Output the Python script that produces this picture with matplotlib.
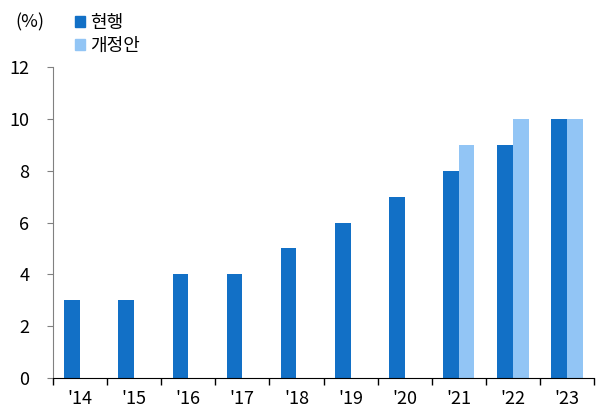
import numpy as np
import matplotlib
matplotlib.use('Agg')
from matplotlib import pyplot as plt
from matplotlib.patches import Patch

plt.rcParams['font.family'] = ['Noto Sans CJK KR', 'DejaVu Sans']

years = ["'14", "'15", "'16", "'17", "'18", "'19", "'20", "'21", "'22", "'23"]
current = [3, 3, 4, 4, 5, 6, 7, 8, 9, 10]
revised = [np.nan, np.nan, np.nan, np.nan, np.nan, np.nan, np.nan, 9, 10, 10]

dark = '#1270c6'
light = '#92c5f5'

fig = plt.figure(figsize=(5.98, 4.08), dpi=100)
ax = fig.add_axes([53/598, 30/408, 541/598, 311/408])

x = np.arange(len(years))
w = 0.29
ax.bar(x - w/2, current, w, color=dark)
ax.bar(x + w/2, revised, w, color=light)

ax.set_xlim(-0.5, len(years) - 0.5)
ax.set_ylim(0, 12)
ax.set_yticks(range(0, 13, 2))
ax.set_xticks(x)
ax.set_xticklabels(years)
ax.set_xticks(np.arange(-0.5, len(years), 1), minor=True)
ax.tick_params(axis='x', which='major', length=0, pad=9, labelsize=13)
ax.tick_params(axis='x', which='minor', length=5, direction='out', width=1)
ax.tick_params(axis='y', length=4, color='#808080', labelsize=13, pad=13)

for s in ['top', 'right']:
    ax.spines[s].set_visible(False)
ax.spines['left'].set_color('#808080')
ax.spines['bottom'].set_color('black')

fig.text(15/598, 1 - 22/408, '(%)', fontsize=13, va='center', ha='left')

handles = [Patch(color=dark, label='현행'), Patch(color=light, label='개정안')]
fig.legend(handles=handles, loc='upper left', bbox_to_anchor=(62/598, 1 - 1/408),
           frameon=False, fontsize=13, handlelength=0.55, handleheight=0.55,
           handletextpad=0.3, labelspacing=0.3, borderpad=0.2)

fig.savefig('out.png', dpi=100)
